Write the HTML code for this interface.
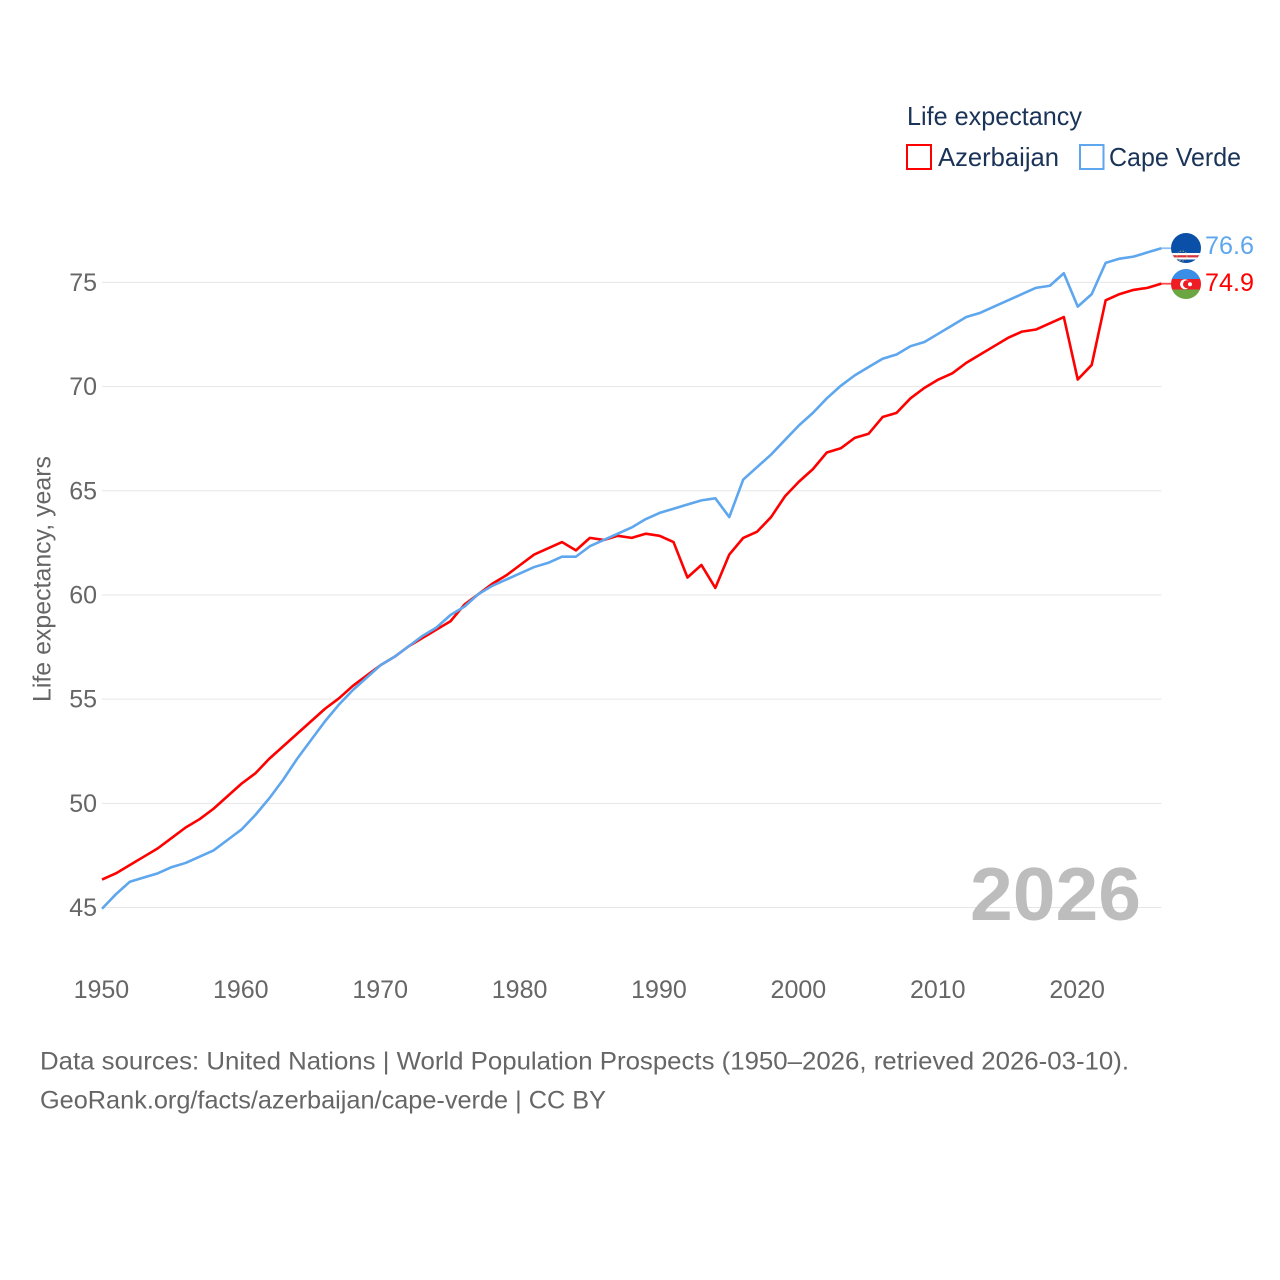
<!DOCTYPE html>
<html lang="en">
<head>
<meta charset="utf-8">
<title>Life expectancy: Azerbaijan and Cape Verde</title>
<style>
html,body{margin:0;padding:0;background:#fff;width:1280px;height:1280px;overflow:hidden}
svg{display:block}
text{font-family:"Liberation Sans",sans-serif}
</style>
</head>
<body>
<svg id="chart" width="1280" height="1280" viewBox="0 0 1280 1280" xmlns="http://www.w3.org/2000/svg">
  <defs>
    <clipPath id="clip-cv"><circle cx="1186" cy="248" r="15"/></clipPath>
    <clipPath id="clip-az"><circle cx="1186" cy="284" r="15"/></clipPath>
  </defs>
  <g id="grid"></g>
  <g id="yticks"></g>
  <g id="xticks"></g>
  <text transform="translate(50.5,579) rotate(-90)" text-anchor="middle" font-size="25" fill="#666" textLength="246" lengthAdjust="spacingAndGlyphs">Life expectancy, years</text>
  <text x="970" y="920" font-size="75" font-weight="700" fill="#bdbdbd" textLength="171" lengthAdjust="spacingAndGlyphs">2026</text>
  <g id="series"></g>

  <g clip-path="url(#clip-cv)">
    <rect x="1171" y="233" width="30" height="30" fill="#0a4fa8"/>
    <rect x="1171" y="253" width="30" height="6.5" fill="#fff"/>
    <rect x="1171" y="255.2" width="30" height="2.2" fill="#d8303c"/>
    <circle cx="1182" cy="256" r="5" fill="none" stroke="#d9c35a" stroke-width="1" stroke-dasharray="1.5 1.5" opacity=".8"/>
  </g>
  <g clip-path="url(#clip-az)">
    <rect x="1171" y="269" width="30" height="10" fill="#3a8ee6"/>
    <rect x="1171" y="279" width="30" height="10.5" fill="#ee1c25"/>
    <rect x="1171" y="289.5" width="30" height="10" fill="#6aa642"/>
    <circle cx="1185" cy="284.2" r="5" fill="#fff"/>
    <circle cx="1187" cy="284.2" r="4" fill="#ee1c25"/>
    <circle cx="1190" cy="284.2" r="2" fill="#fff"/>
  </g>
  <text id="value-cv" x="1205" y="254" font-size="25" fill="#5ea6ee" textLength="49" lengthAdjust="spacingAndGlyphs"></text>
  <text id="value-az" x="1205" y="291" font-size="25" fill="#ff0000" textLength="49" lengthAdjust="spacingAndGlyphs"></text>

  <g>
    <text x="907" y="125" font-size="26" fill="#1a3358" textLength="175" lengthAdjust="spacingAndGlyphs">Life expectancy</text>
    <g>
      <rect x="907" y="145" width="24" height="24" fill="#fff" stroke="#ff0000" stroke-width="2"/>
      <text x="938" y="166" font-size="26" fill="#1a3358" textLength="121" lengthAdjust="spacingAndGlyphs">Azerbaijan</text>
    </g>
    <g>
      <rect x="1080" y="145" width="23.5" height="24" fill="#fff" stroke="#5ea6ee" stroke-width="2"/>
      <text x="1109" y="166" font-size="26" fill="#1a3358" textLength="132" lengthAdjust="spacingAndGlyphs">Cape Verde</text>
    </g>
  </g>

  <g>
    <text x="40" y="1069.3" font-size="25" fill="#666" textLength="1089" lengthAdjust="spacingAndGlyphs">Data sources: United Nations | World Population Prospects (1950–2026, retrieved 2026-03-10).</text>
    <text x="40" y="1108.3" font-size="25" fill="#666" textLength="566" lengthAdjust="spacingAndGlyphs">GeoRank.org/facts/azerbaijan/cape-verde | CC BY</text>
  </g>
</svg>
<script>
const firstYear = 1950;
const azerbaijan = [46.3,46.6,47.0,47.4,47.8,48.3,48.8,49.2,49.7,50.3,50.9,51.4,52.1,52.7,53.3,53.9,54.5,55.0,55.6,56.1,56.6,57.0,57.5,57.9,58.3,58.7,59.5,60.0,60.5,60.9,61.4,61.9,62.2,62.5,62.1,62.7,62.6,62.8,62.7,62.9,62.8,62.5,60.8,61.4,60.3,61.9,62.7,63.0,63.7,64.7,65.4,66.0,66.8,67.0,67.5,67.7,68.5,68.7,69.4,69.9,70.3,70.6,71.1,71.5,71.9,72.3,72.6,72.7,73.0,73.3,70.3,71.0,74.1,74.4,74.6,74.7,74.9];
const capeVerde = [44.9,45.6,46.2,46.4,46.6,46.9,47.1,47.4,47.7,48.2,48.7,49.4,50.2,51.1,52.1,53.0,53.9,54.7,55.4,56.0,56.6,57.0,57.5,58.0,58.4,59.0,59.4,60.0,60.4,60.7,61.0,61.3,61.5,61.8,61.8,62.3,62.6,62.9,63.2,63.6,63.9,64.1,64.3,64.5,64.6,63.7,65.5,66.1,66.7,67.4,68.1,68.7,69.4,70.0,70.5,70.9,71.3,71.5,71.9,72.1,72.5,72.9,73.3,73.5,73.8,74.1,74.4,74.7,74.8,75.4,73.8,74.4,75.9,76.1,76.2,76.4,76.6];
const yTickValues = [45,50,55,60,65,70,75];
const xTickValues = [1950,1960,1970,1980,1990,2000,2010,2020];

const NS = 'http://www.w3.org/2000/svg';
const xScale = function (year) { return 102 + (year - 1950) * (1161.4 - 102) / 76; };
const yScale = function (v) { return 907.5 - (v - 45) * (907.5 - 282.4) / 30; };
const lineYOffset = -0.8;

const gridGroup = document.getElementById('grid');
const yGroup = document.getElementById('yticks');
const xGroup = document.getElementById('xticks');
const seriesGroup = document.getElementById('series');

yTickValues.forEach(function (v) {
  const line = document.createElementNS(NS, 'line');
  
  
  line.setAttribute('x1', xScale(1950));
  line.setAttribute('x2', xScale(2026));
  line.setAttribute('y1', yScale(v));
  line.setAttribute('y2', yScale(v));
  line.setAttribute('stroke', '#e6e6e6');
  line.setAttribute('stroke-width', '1');
  gridGroup.appendChild(line);

  const label = document.createElementNS(NS, 'text');
  
  
  label.setAttribute('x', 97);
  label.setAttribute('y', yScale(v) + 8.6);
  label.setAttribute('text-anchor', 'end');
  label.setAttribute('font-size', '25');
  label.setAttribute('fill', '#666');
  label.textContent = v;
  yGroup.appendChild(label);
});

xTickValues.forEach(function (year) {
  const label = document.createElementNS(NS, 'text');
  
  
  label.setAttribute('x', xScale(year) - 0.6);
  label.setAttribute('y', 998);
  label.setAttribute('text-anchor', 'middle');
  label.setAttribute('font-size', '25');
  label.setAttribute('fill', '#666');
  label.textContent = year;
  xGroup.appendChild(label);
});

function pointsFor(values) {
  return values.map(function (v, i) {
    return xScale(firstYear + i).toFixed(2) + ',' + (yScale(v) + lineYOffset).toFixed(2);
  }).join(' ');
}

function drawSeries(values, color, name) {
  const lastY = yScale(values[values.length - 1]) + lineYOffset;
  const lastX = xScale(firstYear + values.length - 1);

  const connector = document.createElementNS(NS, 'line');
  
  
  connector.setAttribute('x1', lastX);
  connector.setAttribute('x2', lastX + 12);
  connector.setAttribute('y1', lastY);
  connector.setAttribute('y2', lastY);
  connector.setAttribute('stroke', color);
  connector.setAttribute('stroke-width', '1.8');
  connector.setAttribute('opacity', '0.7');
  seriesGroup.appendChild(connector);

  const line = document.createElementNS(NS, 'polyline');
  
  
  line.setAttribute('points', pointsFor(values));
  line.setAttribute('fill', 'none');
  line.setAttribute('stroke', color);
  line.setAttribute('stroke-width', '2.6');
  line.setAttribute('stroke-linejoin', 'round');
  seriesGroup.appendChild(line);
}

drawSeries(azerbaijan, '#ff0000', 'azerbaijan');
drawSeries(capeVerde, '#5ea6ee', 'cape-verde');

document.getElementById('value-cv').textContent = capeVerde[capeVerde.length - 1].toFixed(1);
document.getElementById('value-az').textContent = azerbaijan[azerbaijan.length - 1].toFixed(1);
</script>
</body>
</html>
